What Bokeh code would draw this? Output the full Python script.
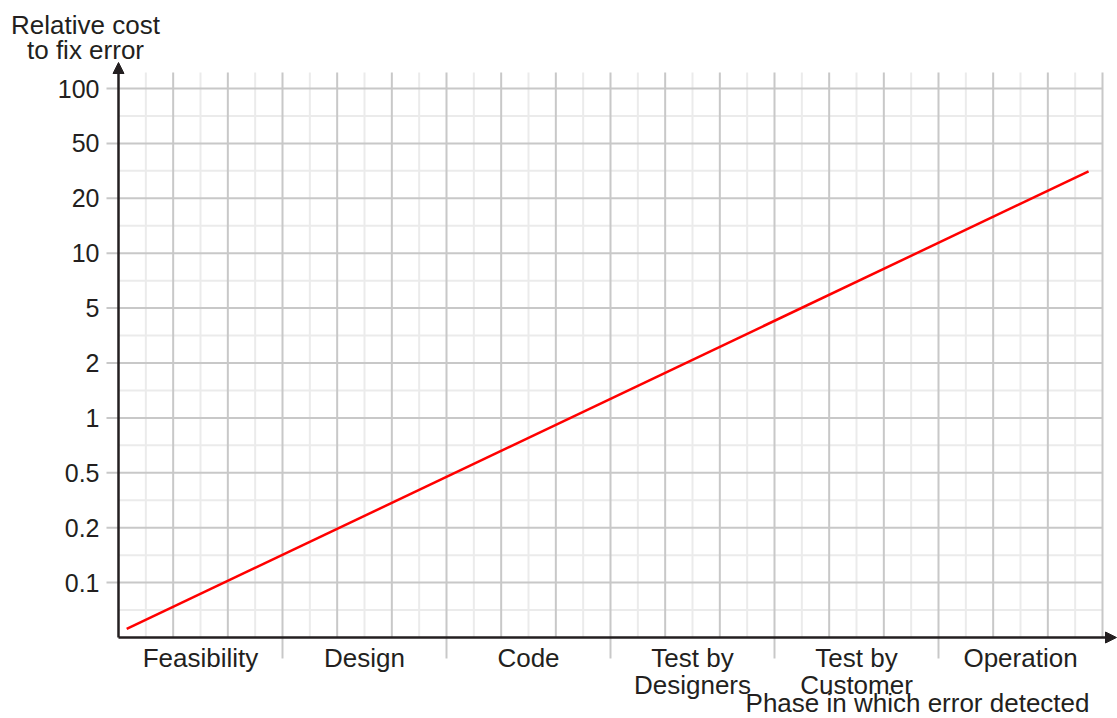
from bokeh.plotting import figure
from bokeh.models import Range1d, Arrow, NormalHead
from bokeh.core.properties import value
from bokeh.embed import file_html
from bokeh.resources import INLINE

# ---- data ----
phases = ["Feasibility", "Design", "Code", "Test by\nDesigners", "Test by\nCustomer", "Operation"]
y_tick_labels = ["0.1", "0.2", "0.5", "1", "2", "5", "10", "20", "50", "100"]
y_title = ["Relative cost", "to fix error"]
x_title = "Phase in which error detected"
# red line: x in phase units, y = position on the 1-2-5 cost scale (1 = 0.1 ... 10 = 100)
line_x = [0.05, 5.915]
line_y = [0.155, 8.49]

TEXT = "#231f20"
FONT = "Liberation Sans"
MAJ = "#c8c8c8"
MIN = "#ebebeb"

W, H = 1117, 718
PX_X = 164.0    # pixels per phase
PX_Y = 54.9     # pixels per scale step
X0, Y0 = 118, 637   # screen position of the origin

def sx(px):
    return (px - X0) / PX_X

def sy(py):
    return (Y0 - py) / PX_Y

n_phase = len(phases)
n_levels = len(y_tick_labels)

p = figure(width=W, height=H, output_backend="svg", toolbar_location=None,
           x_range=Range1d(sx(0), sx(W)), y_range=Range1d(sy(H), sy(0)),
           x_axis_type=None, y_axis_type=None, min_border=0)
p.outline_line_color = None
p.background_fill_color = "white"
p.border_fill_color = "white"

grid_top = sy(72)
tick_len_y = 12 / PX_X
ypos = list(range(1, n_levels + 1))
ymin = [i + 0.5 for i in range(0, n_levels)]
xmaj = [k / 3 for k in range(1, 3 * n_phase + 1)]
xmin = [(2 * k + 1) / 6 for k in range(0, 3 * n_phase)]

# minor grid
p.segment(x0=[0] * len(ymin), y0=ymin, x1=[n_phase] * len(ymin), y1=ymin, line_color=MIN, line_width=2)
p.segment(x0=xmin, y0=[0] * len(xmin), x1=xmin, y1=[grid_top] * len(xmin), line_color=MIN, line_width=2)
# major grid (horizontal lines stick out left as ticks)
p.segment(x0=[-tick_len_y] * len(ypos), y0=ypos, x1=[n_phase] * len(ypos), y1=ypos, line_color=MAJ, line_width=2)
p.segment(x0=xmaj, y0=[0] * len(xmaj), x1=xmaj, y1=[grid_top] * len(xmaj), line_color=MAJ, line_width=2)
# phase boundary ticks below the x axis
bounds = list(range(1, n_phase))
p.segment(x0=bounds, y0=[0] * len(bounds), x1=bounds, y1=[sy(658)] * len(bounds), line_color=MAJ, line_width=2)

# red line
p.line(line_x, line_y, line_color="#ff0000", line_width=2.5)

# axes with arrow heads
p.add_layout(Arrow(end=NormalHead(size=11, fill_color=TEXT, line_color=TEXT),
                   x_start=0, y_start=0, x_end=0, y_end=sy(62), line_color=TEXT, line_width=2.5))
p.add_layout(Arrow(end=NormalHead(size=11, fill_color=TEXT, line_color=TEXT),
                   x_start=0, y_start=0, x_end=sx(1116), y_end=0, line_color=TEXT, line_width=2.5))

# y tick labels
p.text(x=[sx(99)] * n_levels, y=ypos, text=y_tick_labels, text_font=value(FONT), text_font_size="25px",
       text_color=TEXT, text_align="right", text_baseline="middle")

# phase labels (one text per line)
lx, ly, lt = [], [], []
step = 27 / PX_Y
for i, name in enumerate(phases):
    for k, part in enumerate(name.split("\n")):
        lx.append(i + 0.5)
        ly.append(sy(657) - k * step)
        lt.append(part)
p.text(x=lx, y=ly, text=lt, text_font=value(FONT), text_font_size="26px",
       text_color=TEXT, text_align="center", text_baseline="alphabetic")

# axis titles
p.text(x=[sx(85)] * 2, y=[sy(24), sy(49)], text=y_title, text_font=value(FONT), text_font_size="26px",
       text_color=TEXT, text_align="center", text_baseline="alphabetic")
p.text(x=[sx(1089)], y=[sy(702.5)], text=[x_title], text_font=value(FONT), text_font_size="26px",
       text_color=TEXT, text_align="right", text_baseline="alphabetic")

open("out.html", "w").write(file_html(p, INLINE))
